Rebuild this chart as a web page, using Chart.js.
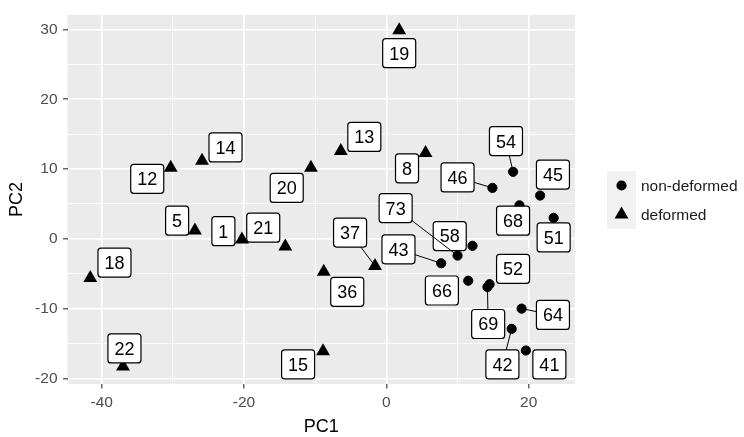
<!DOCTYPE html>
<html>
<head>
<meta charset="utf-8">
<script src="https://cdn.jsdelivr.net/npm/chart.js"></script>
<style>
  html, body { margin: 0; padding: 0; background: #fff; }
  #wrap { width: 744px; height: 437px; }
</style>
</head>
<body>
<div id="wrap"><canvas id="chart" width="744" height="437"></canvas></div>
<script>
// sample groups
const groupNames = ['non-deformed', 'deformed'];

const nonDeformedIds = ['54', '46', '45', '68', '51', '58', '73', '43', '66', '52', '69', '64', '42', '41'];
const nonDeformedPC1 = [17.8, 14.9, 21.6, 18.7, 23.5, 12.1, 10.0, 7.7, 11.5, 14.5, 14.2, 19.0, 17.6, 19.6];
const nonDeformedPC2 = [9.6, 7.3, 6.2, 4.8, 3.0, -1.0, -2.4, -3.5, -6.0, -6.5, -6.9, -10.0, -12.9, -16.0];
// where the repelled labels ended up (data units)
const nonDeformedLabelPC1 = [16.8, 10.0, 23.4, 17.8, 23.5, 8.9, 1.3, 1.7, 7.8, 17.8, 14.3, 23.4, 16.3, 22.9];
const nonDeformedLabelPC2 = [14.0, 8.8, 9.2, 2.6, 0.2, 0.4, 4.4, -1.5, -7.4, -4.3, -12.2, -10.9, -18.0, -18.0];

const deformedIds = ['19', '14', '12', '13', '20', '8', '5', '1', '21', '18', '22', '36', '37', '15'];
const deformedPC1 = [1.8, -25.9, -30.3, -6.4, -10.6, 5.5, -26.9, -20.3, -14.2, -41.6, -37.0, -8.8, -1.6, -8.9];
const deformedPC2 = [29.9, 11.2, 10.2, 12.6, 10.2, 12.3, 1.2, -0.1, -1.1, -5.6, -18.3, -4.7, -3.9, -16.1];
const deformedLabelPC1 = [1.8, -22.6, -33.6, -3.1, -14.0, 2.9, -29.4, -22.9, -17.3, -38.2, -36.8, -5.5, -5.1, -12.4];
const deformedLabelPC2 = [26.6, 13.1, 8.6, 14.6, 7.3, 10.1, 2.6, 1.1, 1.6, -3.4, -15.7, -7.6, 0.9, -18.0];

const xLimits = [-44.8, 26.5];
const yLimits = [-20.8, 32.1];
const xTickLabels = [-40, -20, 0, 20];
const yTickLabels = [-20, -10, 0, 10, 20, 30];

const FONT = '"Liberation Sans", Arial, sans-serif';
const TICK_SIZE = 15.5;

function toPoints(ids, xs, ys, lxs, lys) {
  return ids.map((id, i) => ({ x: xs[i], y: ys[i], id: id, lx: lxs[i], ly: lys[i] }));
}

// panel background + white canvas
const panelPlugin = {
  id: 'panel',
  beforeDraw(chart) {
    const { ctx, chartArea: a } = chart;
    ctx.save();
    ctx.fillStyle = '#ffffff';
    ctx.fillRect(0, 0, chart.width, chart.height);
    ctx.fillStyle = '#EBEBEB';
    ctx.fillRect(a.left, a.top, a.right - a.left, a.bottom - a.top);
    ctx.restore();
  }
};

// boxed labels with leader segments, like ggrepel
const labelPlugin = {
  id: 'repelLabels',
  afterDatasetsDraw(chart) {
    const { ctx } = chart;
    const xs = chart.scales.x, ys = chart.scales.y;
    const fontSize = 18;
    ctx.save();
    ctx.font = fontSize + 'px ' + FONT;
    const boxes = [];
    chart.data.datasets.forEach(ds => {
      ds.data.forEach(p => {
        const px = xs.getPixelForValue(p.x), py = ys.getPixelForValue(p.y);
        const cx = xs.getPixelForValue(p.lx), cy = ys.getPixelForValue(p.ly);
        const tw = ctx.measureText(p.id).width;
        const w = tw + 13, h = 29;
        boxes.push({ id: p.id, px, py, cx, cy, w, h });
      });
    });
    boxes.forEach(b => {
      const x0 = b.cx - b.w / 2, y0 = b.cy - b.h / 2;
      ctx.beginPath();
      ctx.roundRect(x0, y0, b.w, b.h, 3);
      ctx.fillStyle = '#ffffff';
      ctx.fill();
      ctx.lineWidth = 1.2;
      ctx.strokeStyle = '#000000';
      ctx.stroke();
      ctx.fillStyle = '#000000';
      ctx.textAlign = 'center';
      ctx.textBaseline = 'alphabetic';
      ctx.fillText(b.id, b.cx, b.cy + fontSize * 0.716 / 2);
    });
    boxes.forEach(b => {
      // gap between point and box edge
      const dx = Math.max(b.cx - b.w / 2 - b.px, 0, b.px - (b.cx + b.w / 2));
      const dy = Math.max(b.cy - b.h / 2 - b.py, 0, b.py - (b.cy + b.h / 2));
      if (Math.hypot(dx, dy) - 6 <= 6) return;
      const vx = b.px - b.cx, vy = b.py - b.cy;
      const t = Math.min(
        vx !== 0 ? (b.w / 2) / Math.abs(vx) : Infinity,
        vy !== 0 ? (b.h / 2) / Math.abs(vy) : Infinity
      );
      const ex = b.cx + vx * t, ey = b.cy + vy * t;
      ctx.beginPath();
      ctx.moveTo(ex, ey);
      ctx.lineTo(b.px, b.py);
      ctx.lineWidth = 1;
      ctx.strokeStyle = '#000000';
      ctx.stroke();
    });
    ctx.restore();
  }
};

// legend on the right, ggplot style keys
const legendPlugin = {
  id: 'sideLegend',
  afterDraw(chart) {
    const { ctx } = chart;
    const keyX = 607, keyY = 171, keyS = 29;
    ctx.save();
    chart.data.datasets.forEach((ds, i) => {
      const top = keyY + i * keyS;
      ctx.fillStyle = '#F2F2F2';
      ctx.fillRect(keyX, top, keyS, keyS);
      const mx = keyX + keyS / 2, my = top + keyS / 2;
      ctx.fillStyle = '#000000';
      ctx.beginPath();
      if (ds.pointStyle === 'triangle') {
        const r = ds.pointRadius;
        ctx.moveTo(mx, my - r);
        ctx.lineTo(mx + r * Math.sin(2 * Math.PI / 3), my + r / 2);
        ctx.lineTo(mx - r * Math.sin(2 * Math.PI / 3), my + r / 2);
        ctx.closePath();
      } else {
        ctx.arc(mx, my, ds.pointRadius + 0.5, 0, Math.PI * 2);
      }
      ctx.fill();
      ctx.font = TICK_SIZE + 'px ' + FONT;
      ctx.fillStyle = '#1A1A1A';
      ctx.textAlign = 'left';
      ctx.textBaseline = 'middle';
      ctx.fillText(ds.label, keyX + keyS + 5, my + 1);
    });
    ctx.restore();
  }
};

const ctx = document.getElementById('chart').getContext('2d');
new Chart(ctx, {
  type: 'scatter',
  data: {
    datasets: [
      {
        label: groupNames[0],
        data: toPoints(nonDeformedIds, nonDeformedPC1, nonDeformedPC2, nonDeformedLabelPC1, nonDeformedLabelPC2),
        pointStyle: 'circle',
        pointRadius: 4.6,
        pointBorderWidth: 1,
        backgroundColor: '#000000',
        borderColor: '#000000'
      },
      {
        label: groupNames[1],
        data: toPoints(deformedIds, deformedPC1, deformedPC2, deformedLabelPC1, deformedLabelPC2),
        pointStyle: 'triangle',
        pointRadius: 8,
        pointBorderWidth: 0,
        backgroundColor: '#000000',
        borderColor: '#000000'
      }
    ]
  },
  options: {
    responsive: false,
    animation: false,
    devicePixelRatio: 1,
    layout: { padding: { left: 0, right: 169, top: 9, bottom: 0 } },
    plugins: {
      legend: { display: false },
      tooltip: { enabled: false }
    },
    scales: {
      x: {
        type: 'linear',
        min: xLimits[0],
        max: xLimits[1],
        afterFit(scale) { scale.height = 53; },
        border: { display: false },
        grid: {
          color: '#FFFFFF',
          lineWidth: c => (xTickLabels.includes(c.tick.value) ? 1.6 : 0.8),
          tickColor: c => (xTickLabels.includes(c.tick.value) ? '#333333' : 'rgba(0,0,0,0)'),
          tickLength: 4.5,
          tickWidth: 1.1
        },
        ticks: {
          stepSize: 10,
          includeBounds: false,
          autoSkip: false,
          maxRotation: 0,
          padding: 5,
          color: '#4D4D4D',
          font: { family: FONT, size: TICK_SIZE },
          callback: v => (xTickLabels.includes(v) ? String(v) : '')
        },
        title: {
          display: true,
          text: 'PC1',
          color: '#000000',
          font: { family: FONT, size: 18, lineHeight: 1.1 },
          padding: { top: 0, bottom: 0 }
        }
      },
      y: {
        type: 'linear',
        min: yLimits[0],
        max: yLimits[1],
        afterFit(scale) { scale.width = 67.5; },
        border: { display: false },
        grid: {
          color: '#FFFFFF',
          lineWidth: c => (yTickLabels.includes(c.tick.value) ? 1.6 : 0.8),
          tickColor: c => (yTickLabels.includes(c.tick.value) ? '#333333' : 'rgba(0,0,0,0)'),
          tickLength: 4.5,
          tickWidth: 1.1
        },
        ticks: {
          stepSize: 5,
          includeBounds: false,
          autoSkip: false,
          padding: 5.5,
          color: '#4D4D4D',
          font: { family: FONT, size: TICK_SIZE },
          callback: v => (yTickLabels.includes(v) ? String(v) : '')
        },
        title: {
          display: true,
          text: 'PC2',
          color: '#000000',
          font: { family: FONT, size: 18 },
          padding: { top: 6, bottom: 0 }
        }
      }
    }
  },
  plugins: [panelPlugin, labelPlugin, legendPlugin]
});
</script>
</body>
</html>
